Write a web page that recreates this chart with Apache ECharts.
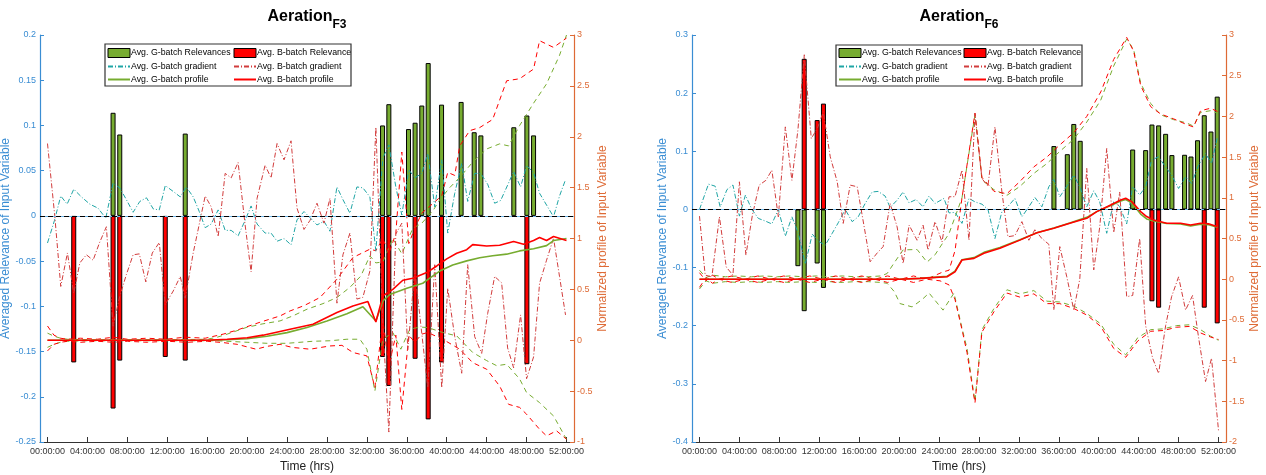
<!DOCTYPE html>
<html><head><meta charset="utf-8">
<script src="https://cdn.jsdelivr.net/npm/echarts@6/dist/echarts.min.js"></script>
<style>html,body{margin:0;padding:0;background:#fff}#c{width:1266px;height:475px}</style>
</head><body><div id="c"></div>
<script>
// ---------- ticks / labels ----------
const xTickHours = [0,4,8,12,16,20,24,28,32,36,40,44,48,52];
const xTickLabels = ['00:00:00','04:00:00','08:00:00','12:00:00','16:00:00','20:00:00','24:00:00','28:00:00','32:00:00','36:00:00','40:00:00','44:00:00','48:00:00','52:00:00'];
const panelSubs = ['F3','F6'];
const legendNames = ['Avg. G-batch Relevances','Avg. B-batch Relevance','Avg. G-batch gradient','Avg. B-batch gradient','Avg. G-batch profile','Avg. B-batch profile'];
const leftAxisName = 'Averaged Relevance of Input Variable';
const rightAxisName = 'Normalized profile of Input Variable';
const xAxisName = 'Time (hrs)';

// ---------- Aeration F3 ----------
const f3BarGTimes = [6.57,7.24,13.8,33.57,34.2,36.17,36.83,37.5,38.14,39.48,41.44,42.75,43.42,46.72,48.03,48.7];
const f3BarG      = [0.114,0.090,0.091,0.100,0.1235,0.096,0.103,0.122,0.169,0.123,0.126,0.0925,0.089,0.098,0.111,0.089];
const f3BarBTimes = [2.63,6.57,7.24,11.8,13.8,33.57,34.2,36.83,38.14,39.48,48.03];
const f3BarB      = [-0.162,-0.213,-0.160,-0.156,-0.160,-0.156,-0.188,-0.158,-0.225,-0.162,-0.164];
const f3GradG = [[0,-0.03],[0.7,-0.005],[1.33,0.022],[1.97,0.013],[2.63,0.0295],[3.4,0.021],[4.24,0.013],[5.07,0.0085],[5.84,-0.0026],[6.57,0.036],[7.24,0.031],[7.9,0.018],[8.58,0.004],[9.25,0.016],[9.92,0.020],[10.6,0.0077],[11.2,0.0066],[11.8,0.0335],[12.6,0.027],[13.3,0.021],[13.9,0.032],[14.6,0.021],[15.2,0.005],[15.8,-0.013],[16.4,-0.009],[17.1,0.0066],[17.8,-0.016],[18.4,-0.016],[19.1,-0.022],[19.8,-0.005],[20.4,0.011],[21.0,-0.009],[21.8,-0.019],[22.4,-0.019],[23.0,-0.028],[23.7,-0.025],[24.4,-0.032],[25.0,-0.0044],[25.7,0.0048],[26.3,-0.002],[27.0,-0.01],[27.7,-0.006],[28.3,-0.017],[29.0,0.032],[29.6,0.018],[30.3,0.003],[31.0,0.032],[31.6,0.031],[32.3,0.021],[32.9,-0.039],[33.6,0.064],[34.2,0.0785],[34.9,0.032],[35.5,0.001],[36.2,0.051],[36.8,0.042],[37.5,0.047],[38.1,0.069],[38.8,0.010],[39.5,0.062],[40.1,-0.019],[40.8,0.025],[41.5,0.058],[42.1,0.016],[42.8,0.047],[43.4,0.047],[44.1,0.035],[44.8,0.014],[45.4,0.017],[46.1,0.034],[46.7,0.049],[47.4,0.032],[48.0,0.0557],[48.7,0.048],[49.3,0.025],[50.0,0.012],[50.7,-0.001],[51.3,0.022],[51.9,0.040]];
const f3GradB = [[0,0.080],[0.73,0.0],[1.33,-0.078],[2.0,-0.041],[2.63,-0.0855],[3.24,-0.052],[3.9,-0.043],[4.57,-0.049],[5.2,-0.03],[5.9,-0.012],[6.57,-0.122],[7.24,-0.089],[7.9,-0.065],[8.58,-0.043],[9.2,-0.042],[9.85,-0.073],[10.5,-0.041],[11.2,-0.0295],[11.8,-0.098],[12.6,-0.083],[13.3,-0.067],[13.8,-0.091],[14.6,-0.041],[15.8,0.022],[16.4,0.010],[17.1,-0.023],[17.8,0.047],[18.4,0.042],[19.1,0.059],[19.8,-0.01],[20.4,-0.062],[21.0,0.0195],[21.8,0.056],[22.4,0.042],[23.0,0.080],[23.7,0.062],[24.4,0.083],[25.0,0.0085],[25.7,-0.015],[26.3,-0.005],[27.0,0.014],[27.7,-0.008],[28.3,0.0195],[29.0,-0.0965],[29.6,-0.043],[30.3,-0.019],[31.0,-0.092],[31.6,-0.09],[32.3,-0.061],[32.9,0.098],[33.6,-0.12],[34.2,-0.239],[34.9,-0.02],[35.5,-0.008],[36.1,-0.148],[36.8,-0.06],[37.5,-0.13],[38.1,-0.19],[38.8,-0.054],[39.5,-0.19],[40.1,-0.08],[40.8,-0.1335],[41.5,-0.174],[42.1,-0.054],[42.8,-0.1335],[43.5,-0.152],[44.1,-0.108],[44.8,-0.067],[45.5,-0.074],[46.1,-0.146],[46.7,-0.168],[47.4,-0.1095],[48.0,-0.18],[48.7,-0.156],[49.3,-0.0745],[50.0,-0.049],[50.7,-0.0247],[51.3,-0.067],[51.9,-0.1095]];
const f3ProfG = [[0,0],[4,0],[8,0],[12,0],[16,0],[18,0.005],[20,0.015],[22,0.04],[24,0.075],[26,0.125],[28,0.19],[30,0.26],[31.6,0.33],[32.9,0.19],[33.6,0.386],[34.3,0.45],[36,0.51],[37.6,0.56],[38.3,0.61],[39.3,0.68],[40.6,0.74],[42,0.78],[43.3,0.81],[44.6,0.83],[46,0.846],[47.3,0.878],[48.7,0.9],[50,0.93],[50.7,0.98],[52,1.0]];
const f3ProfB = [[0,0],[4,0],[8,0],[12,0],[16,0],[18,0.01],[20,0.025],[21.6,0.05],[24.3,0.108],[26.6,0.157],[29.0,0.272],[30.6,0.337],[32.1,0.38],[32.9,0.18],[33.6,0.436],[34.6,0.5],[35.6,0.59],[36.6,0.61],[38,0.665],[39,0.73],[40,0.8],[41,0.855],[42,0.89],[42.6,0.94],[44,0.927],[45.3,0.934],[46.7,0.97],[47.7,0.944],[48.7,0.98],[49.3,1.01],[50,0.98],[50.7,1.02],[52,0.98]];
const f3EnvGUp = [[0,0.07],[0.65,0.04],[1.3,0.02],[2,0.01],[4,0.005],[8,0.005],[12,0.005],[16,0.01],[17,0.03],[18,0.06],[19.9,0.125],[21.5,0.16],[23.3,0.19],[24.6,0.24],[26.0,0.305],[27.6,0.36],[29.0,0.42],[30.3,0.52],[31.4,0.632],[32.3,0.83],[32.9,0.76],[33.6,0.77],[34.6,1.0],[35.5,0.85],[36.6,1.1],[37.5,1.15],[38.6,1.27],[39.3,1.38],[40.3,1.5],[41.3,1.6],[42.6,1.75],[44.0,1.88],[45.3,1.93],[46.2,1.91],[47.3,2.11],[48.7,2.33],[50.0,2.52],[51.3,2.8],[52,3.0]];
const f3EnvGLo = [[0,-0.07],[0.65,-0.04],[1.3,-0.02],[2,-0.01],[4,-0.005],[8,-0.005],[12,-0.005],[17,-0.005],[20,-0.02],[22,-0.03],[24,-0.03],[26.6,-0.01],[28.3,-0.005],[30,0.01],[31.3,0.01],[32,-0.088],[32.8,-0.5],[33.6,0.01],[34.6,0.076],[35.4,-0.088],[36.3,0.108],[37.3,0.13],[38.1,0.125],[39.6,0.076],[41.0,0.043],[42.6,-0.12],[44.0,-0.2],[45.0,-0.25],[46.0,-0.236],[47.3,-0.38],[48.0,-0.514],[49.3,-0.613],[50.7,-0.744],[52,-0.973]];
const f3EnvBUp = [[0,0.14],[0.65,0.05],[1.3,0.02],[2,0.01],[3.3,0.02],[5,0.01],[6.6,0.03],[8,0.01],[10,0.02],[11.8,0.01],[13.8,0.03],[15.8,0.02],[17.6,0.06],[19,0.1],[21.2,0.174],[23.3,0.239],[24.3,0.288],[25.7,0.34],[27.3,0.42],[29.0,0.6],[30.6,0.813],[32.3,0.895],[32.9,0.88],[33.6,1.0],[34.2,0.85],[34.9,1.05],[35.5,1.85],[36.2,0.95],[36.8,1.1],[37.5,1.25],[38.1,1.3],[39.5,1.42],[40.1,1.65],[40.8,1.62],[41.3,1.91],[42.3,2.06],[43.3,2.09],[44.6,2.17],[46.0,2.55],[47.3,2.57],[48.7,2.665],[49.3,2.944],[50.7,2.878],[52,2.97]];
const f3EnvBLo = [[0,-0.105],[0.65,-0.04],[1.3,-0.02],[2,-0.01],[3.3,-0.02],[5,-0.01],[6.6,-0.02],[8,-0.01],[10,-0.02],[12,-0.01],[14,-0.02],[16,-0.01],[17.6,-0.023],[19,-0.04],[20.9,-0.088],[22,-0.06],[23.3,-0.04],[24.5,-0.07],[26.3,-0.088],[28.3,-0.056],[29.5,-0.05],[30.6,-0.12],[32.0,-0.154],[32.8,-0.465],[33.6,0.2],[34.2,-0.25],[34.9,0.05],[35.5,-0.68],[36.2,0.05],[36.8,-0.02],[37.5,0.06],[38.1,0.076],[39.6,0.01],[41.3,-0.088],[42.6,-0.22],[44.0,-0.285],[45.3,-0.45],[46.2,-0.63],[47.3,-0.66],[48.0,-0.727],[49.3,-0.875],[50.0,-0.94],[51.0,-0.89],[52,-0.973]];

// ---------- Aeration F6 ----------
const f6BarGTimes = [9.86,10.49,11.79,12.42,35.51,36.85,37.5,38.14,43.4,44.7,45.33,46.0,46.7,47.33,48.6,49.24,49.9,50.57,51.24,51.87];
const f6BarG      = [-0.0976,-0.175,-0.093,-0.135,0.109,0.095,0.147,0.118,0.103,0.102,0.146,0.1445,0.130,0.0935,0.094,0.091,0.119,0.162,0.134,0.194];
const f6BarBTimes = [10.49,11.79,12.42,45.33,46.0,50.57,51.87];
const f6BarB      = [0.259,0.1537,0.182,-0.158,-0.169,-0.169,-0.196];
const f6GradG = [[0,0],[0.9,0.0435],[1.57,0.040],[2.07,0.0045],[2.75,0.034],[3.35,0.042],[4.0,-0.0115],[4.6,0.0246],[5.25,0],[5.9,-0.0155],[6.6,-0.02],[7.25,-0.025],[7.9,0],[8.6,-0.046],[9.26,-0.0127],[9.9,-0.041],[10.6,-0.094],[11.3,-0.0425],[11.9,-0.0545],[12.6,-0.0615],[13.3,-0.041],[13.9,-0.023],[14.6,0],[15.3,-0.021],[15.9,-0.0127],[16.6,0.0103],[17.3,0.030],[17.9,0.031],[18.6,0.023],[19.1,0.0034],[19.8,0.016],[20.4,0.030],[21.0,0.0114],[21.7,0.017],[22.4,0.0045],[23.0,0.023],[23.6,0.0103],[24.5,0.019],[25.0,-0.006],[25.6,-0.005],[26.3,-0.024],[27.0,0.019],[27.6,0.013],[28.3,0.009],[28.9,0.0],[29.6,-0.05],[30.3,-0.004],[30.9,0.005],[31.6,0.019],[32.3,-0.0127],[33.0,0.0045],[33.6,0.0207],[34.3,0.0045],[35.0,0.039],[35.5,0.0516],[36.1,0.0217],[36.8,0.04],[37.5,0.059],[38.1,0.039],[38.8,0.0045],[39.5,0.032],[40.1,0.013],[40.8,-0.041],[41.5,0.013],[42.1,0.005],[42.8,-0.025],[43.4,0.039],[44.1,0.025],[44.7,0.039],[45.3,0.085],[46.0,0.0905],[46.7,0.073],[47.3,0.059],[48.0,0.036],[48.7,0.056],[49.3,0.0447],[50.0,0.076],[50.7,0.096],[51.3,0.079],[51.9,0.125]];
const f6GradB = [[0,-0.0115],[0.57,-0.113],[1.24,-0.116],[2.0,-0.0127],[2.68,-0.099],[3.35,-0.113],[4.0,0.0475],[4.65,-0.0787],[5.3,-0.01],[5.98,0.0418],[6.65,0.050],[7.25,0.0676],[7.9,-0.0127],[8.6,0.142],[9.26,0.050],[9.86,0.1365],[10.5,0.266],[11.2,0.122],[11.8,0.139],[12.4,0.168],[13.1,0.0905],[13.8,0.0475],[14.4,-0.024],[15.1,0.0418],[15.8,0.039],[16.4,-0.02],[17.1,-0.090],[17.8,-0.075],[18.4,-0.064],[19.1,0.0103],[19.8,-0.03],[20.4,-0.093],[21.0,-0.027],[21.8,-0.053],[22.4,-0.027],[22.9,-0.07],[23.6,-0.021],[24.3,-0.056],[25.0,0.0217],[25.6,0.022],[26.3,0.0676],[27.0,-0.053],[27.6,0.165],[28.3,0.053],[28.9,0.04],[29.6,0.142],[30.3,0.03],[30.9,-0.047],[31.6,-0.045],[32.3,-0.021],[33.0,-0.053],[33.6,-0.035],[34.3,-0.05],[35.0,-0.06],[35.5,-0.173],[36.1,-0.064],[36.8,-0.116],[37.5,-0.173],[38.1,-0.12],[38.8,0.0705],[39.5,-0.104],[40.1,-0.03],[40.8,0.105],[41.5,-0.04],[42.1,0.03],[42.8,-0.15],[43.4,-0.148],[44.1,-0.05],[44.7,-0.2],[45.4,-0.256],[46.0,-0.282],[46.7,-0.2],[47.3,-0.15],[48.0,-0.116],[48.7,-0.173],[49.4,-0.148],[50.0,-0.22],[50.7,-0.296],[51.3,-0.256],[52.0,-0.38]];
const f6ProfG = [[0,0],[4,0],[8,0],[12,0],[16,0],[20,0],[22.1,0.01],[24.8,0.035],[25.6,0.1],[26.3,0.24],[27.5,0.265],[28.5,0.33],[30.1,0.39],[32.1,0.485],[33.8,0.57],[35.5,0.63],[37.1,0.69],[38.8,0.76],[39.8,0.83],[41.2,0.905],[42.2,0.96],[42.7,0.98],[43.3,0.94],[44.2,0.80],[44.8,0.74],[45.5,0.715],[46.8,0.685],[48.2,0.68],[49.2,0.655],[50.2,0.675],[51.0,0.67],[51.9,0.64]];
const f6ProfB = [[0,0],[4,0],[8,0],[12,0],[16,0],[20,0],[22.1,0.01],[24.8,0.03],[25.6,0.09],[26.3,0.236],[27.5,0.256],[28.5,0.318],[30.1,0.38],[32.1,0.48],[33.8,0.57],[35.5,0.626],[37.1,0.687],[38.8,0.748],[39.8,0.83],[41.2,0.912],[42.2,0.973],[42.7,0.994],[43.3,0.953],[44.2,0.83],[44.8,0.77],[45.5,0.727],[46.8,0.687],[48.2,0.687],[49.2,0.666],[50.2,0.687],[51.0,0.68],[51.9,0.645]];
const f6EnvGUp = [[0,0.11],[0.65,0.02],[1.3,0.05],[2.6,0.03],[3.9,0.04],[5.2,0.03],[6.5,0.04],[7.8,0.03],[9.1,0.04],[10.4,0.03],[11.7,0.04],[13,0.03],[14.3,0.04],[15.6,0.03],[16.9,0.03],[18.2,0.04],[18.8,0.07],[19.5,0.2],[20.4,0.36],[21.8,0.365],[22.8,0.21],[23.6,0.3],[24.4,0.45],[25.0,0.56],[26.3,1.0],[27.6,2.02],[28.3,1.22],[29.5,1.1],[30.8,1.03],[32.1,1.14],[33.5,1.3],[34.8,1.42],[36.1,1.57],[37.5,1.72],[38.8,1.93],[40.2,2.2],[41.5,2.62],[42.8,2.95],[43.5,2.82],[44.2,2.41],[45.2,2.16],[46.2,2.02],[47.5,1.96],[48.8,1.92],[49.5,1.88],[50.2,2.05],[51.2,2.07],[51.9,2.04]];
const f6EnvGLo = [[0,-0.12],[0.65,-0.02],[1.3,-0.05],[2.6,-0.03],[3.9,-0.04],[5.2,-0.03],[6.5,-0.04],[7.8,-0.03],[9.1,-0.04],[10.4,-0.03],[11.7,-0.04],[13,-0.03],[14.3,-0.04],[15.6,-0.03],[16.9,-0.03],[18.2,-0.04],[18.8,-0.05],[19.5,-0.15],[20.1,-0.3],[21.3,-0.34],[22.3,-0.25],[23.0,-0.17],[24.4,-0.38],[25.5,-0.17],[26.3,-0.6],[26.8,-0.85],[27.6,-1.5],[28.3,-0.62],[29.5,-0.36],[30.8,-0.13],[32.1,-0.18],[33.5,-0.14],[34.8,-0.27],[36.1,-0.28],[37.5,-0.33],[38.8,-0.42],[40.2,-0.55],[41.5,-0.8],[42.7,-0.93],[43.9,-0.72],[45.2,-0.62],[46.5,-0.61],[47.8,-0.57],[49.1,-0.56],[50.2,-0.62],[51.2,-0.7],[52,-0.75]];
const f6EnvBUp = [[0,0.08],[0.65,-0.02],[1.3,0.05],[1.95,0.0],[3.25,0.04],[4.55,0.0],[5.85,0.04],[7.15,0.0],[8.45,0.04],[9.75,0.0],[11.05,0.04],[12.35,0.0],[13.65,0.04],[14.95,0.0],[16.25,0.04],[17.55,0.0],[18.85,0.04],[20.15,0.0],[21.45,0.04],[22.75,0.0],[24.4,0.09],[25.0,0.11],[25.6,0.35],[26.3,1.0],[27.6,2.04],[28.3,1.25],[29.5,1.08],[30.8,1.05],[32.1,1.2],[33.5,1.38],[34.8,1.5],[36.1,1.65],[37.5,1.8],[38.8,2.0],[40.2,2.3],[41.5,2.7],[42.8,2.97],[43.5,2.8],[44.2,2.38],[45.2,2.12],[46.2,2.03],[47.5,1.97],[48.8,1.9],[49.5,1.87],[50.2,2.07],[51.2,2.1],[51.9,2.06]];
const f6EnvBLo = [[0,-0.1],[0.65,0.02],[1.3,-0.05],[1.95,0.0],[3.25,-0.04],[4.55,0.0],[5.85,-0.04],[7.15,0.0],[8.45,-0.04],[9.75,0.0],[11.05,-0.04],[12.35,0.0],[13.65,-0.04],[14.95,0.0],[16.25,-0.04],[17.55,0.0],[18.85,-0.04],[20.15,0.0],[21.45,-0.04],[22.75,0.0],[24.1,-0.02],[25.0,-0.07],[25.6,-0.25],[26.3,-0.62],[26.8,-0.9],[27.6,-1.52],[28.3,-0.65],[29.5,-0.4],[30.8,-0.17],[32.1,-0.22],[33.5,-0.18],[34.8,-0.3],[36.1,-0.3],[37.5,-0.36],[38.8,-0.44],[40.2,-0.58],[41.5,-0.85],[42.7,-0.96],[43.9,-0.76],[45.2,-0.64],[46.5,-0.63],[47.8,-0.59],[49.1,-0.58],[50.2,-0.66],[51.2,-0.71],[52,-0.74]];

// ---------- styling ----------
const BLUE = '#3A8DD3', ORANGE = '#DE6A35', GREEN = '#77AC30', RED = '#FF0000', TEAL = '#1FA5A5', PINK = '#D23C3C';
const DASHDOT = [5,2,1,2], DASH = [5,4];
const FONT = 'Liberation Sans';

const panels = [
  {bgT:f3BarGTimes,bg:f3BarG,bbT:f3BarBTimes,bb:f3BarB,gG:f3GradG,gB:f3GradB,pG:f3ProfG,pB:f3ProfB,eGU:f3EnvGUp,eGL:f3EnvGLo,eBU:f3EnvBUp,eBL:f3EnvBLo,
   yL:{min:-0.25,max:0.2,interval:0.05,gap:22}, yR:{min:-1,max:3,interval:0.5,gap:18}},
  {bgT:f6BarGTimes,bg:f6BarG,bbT:f6BarBTimes,bb:f6BarB,gG:f6GradG,gB:f6GradB,pG:f6ProfG,pB:f6ProfB,eGU:f6EnvGUp,eGL:f6EnvGLo,eBU:f6EnvBUp,eBL:f6EnvBLo,
   yL:{min:-0.4,max:0.3,interval:0.1,gap:17}, yR:{min:-2,max:3,interval:0.5,gap:17}}
];
const gridLeft = [40, 692];
const zip = (t, v) => t.map((x, i) => [x, v[i]]);
const fmt = v => String(+(+v).toFixed(2));

const grids = [], xAxes = [], yAxes = [], series = [], titles = [], legends = [], graphics = [];
panels.forEach((d, p) => {
  grids.push({left: gridLeft[p], top: 35, width: 534, height: 407, containLabel:false, outerBoundsMode:'none'});
  xAxes.push({type:'value', gridIndex:p, min:-0.75, max:52.75,
    name: xAxisName, nameLocation:'middle', nameGap:17, nameTextStyle:{color:'#222', fontSize:12, fontFamily:FONT},
    axisLine:{onZero:false, lineStyle:{color:'#333', width:1}},
    axisTick:{inside:true, length:5, customValues:xTickHours, lineStyle:{color:'#333'}},
    axisLabel:{customValues:xTickHours, margin:5, fontSize:9, color:'#333', fontFamily:FONT,
      formatter: v => xTickLabels[xTickHours.indexOf(Math.round(v))]},
    splitLine:{show:false}});
  yAxes.push({type:'value', gridIndex:p, position:'left', min:d.yL.min, max:d.yL.max, interval:d.yL.interval,
    name:leftAxisName, nameLocation:'middle', nameRotate:90, nameGap:d.yL.gap, nameTextStyle:{color:BLUE, fontSize:12, fontFamily:FONT},
    axisLine:{show:true, onZero:false, lineStyle:{color:BLUE, width:1.2}}, axisTick:{show:true, inside:true, length:4, lineStyle:{color:BLUE}},
    axisLabel:{color:BLUE, fontSize:9, margin:4, fontFamily:FONT, formatter:fmt}, splitLine:{show:false}});
  yAxes.push({type:'value', gridIndex:p, position:'right', min:d.yR.min, max:d.yR.max, interval:d.yR.interval,
    name:rightAxisName, nameLocation:'middle', nameRotate:90, nameGap:d.yR.gap, nameTextStyle:{color:ORANGE, fontSize:12, fontFamily:FONT},
    axisLine:{show:true, onZero:false, lineStyle:{color:ORANGE, width:1.2}}, axisTick:{show:true, inside:true, length:4, lineStyle:{color:ORANGE}},
    axisLabel:{color:ORANGE, fontSize:9, margin:3, fontFamily:FONT, formatter:fmt}, splitLine:{show:false}});
  const L = 2*p, R = 2*p+1;
  const zeroLine = (color, type, w) => ({silent:true, symbol:'none', label:{show:false}, animation:false, data:[{yAxis:0}], lineStyle:{color, type, width:w}});
  series.push(
    {type:'bar', name:legendNames[0], xAxisIndex:p, yAxisIndex:L, data:zip(d.bgT, d.bg), barWidth:5, barGap:'-100%',
      itemStyle:{color:GREEN, borderColor:'#000', borderWidth:1}, markLine:zeroLine('#6FB6E8','solid',1.2)},
    {type:'bar', name:legendNames[1], xAxisIndex:p, yAxisIndex:L, data:zip(d.bbT, d.bb), barWidth:5, barGap:'-100%',
      itemStyle:{color:RED, borderColor:'#000', borderWidth:1}, markLine:zeroLine('#000',[5,3],1.2)}
  );
  const line = (name, yi, data, color, type, width) => ({type:'line', name, xAxisIndex:p, yAxisIndex:yi, data, symbol:'none', showSymbol:false,
      lineStyle:{color, type, width}, itemStyle:{color}, z:3});
  series.push(
    line('envGU'+p, R, d.eGU, GREEN, DASH, 1),
    line('envGL'+p, R, d.eGL, GREEN, DASH, 1),
    line('envBU'+p, R, d.eBU, RED, DASH, 1),
    line('envBL'+p, R, d.eBL, RED, DASH, 1),
    line(legendNames[2], L, d.gG, TEAL, DASHDOT, 1),
    line(legendNames[3], L, d.gB, PINK, DASHDOT, 1),
    line(legendNames[4], R, d.pG, GREEN, 'solid', 1.6),
    line(legendNames[5], R, d.pB, RED, 'solid', 1.6)
  );
  const cx = gridLeft[p] + 267;
  titles.push({text:'{a|Aeration}{b|' + panelSubs[p] + '}', left: cx, top: 9, textAlign:'center', padding:0,
    textStyle:{rich:{a:{fontSize:16, fontWeight:'bold', color:'#000', fontFamily:FONT, verticalAlign:'top'},
                     b:{fontSize:12, fontWeight:'bold', color:'#000', fontFamily:FONT, verticalAlign:'top', padding:[10,0,0,0]}}}});
  const lx = [[107, 233],[838, 963]][p];
  const barItem = n => ({name:n, icon:'rect', itemStyle:{borderColor:'#000', borderWidth:1}});
  const lineItem = n => ({name:n, itemStyle:{color:'rgba(0,0,0,0)', borderColor:'rgba(0,0,0,0)', borderWidth:0}});
  [[barItem(legendNames[0]), lineItem(legendNames[2]), lineItem(legendNames[4])],
   [barItem(legendNames[1]), lineItem(legendNames[3]), lineItem(legendNames[5])]].forEach((items, c) => {
    legends.push({data:items, orient:'vertical', left: lx[c], top: 48, itemWidth:22, itemHeight:9, itemGap:4, padding:0,
      textStyle:{fontSize:8.8, color:'#000', fontFamily:FONT, padding:[0,0,0,-4]}, selectedMode:false});
  });
  const bx = [[105, 44, 246, 42],[836, 45, 246, 41]][p];
  graphics.push({type:'rect', shape:{x:bx[0], y:bx[1], width:bx[2], height:bx[3]}, style:{fill:null, stroke:'#333', lineWidth:1.2}, z:-1});
});

const chart = echarts.init(document.getElementById('c'), null, {renderer:'canvas'});
chart.setOption({animation:false, backgroundColor:'#fff', title:titles, legend:legends, grid:grids, xAxis:xAxes, yAxis:yAxes, series, graphic:graphics});
</script></body></html>
